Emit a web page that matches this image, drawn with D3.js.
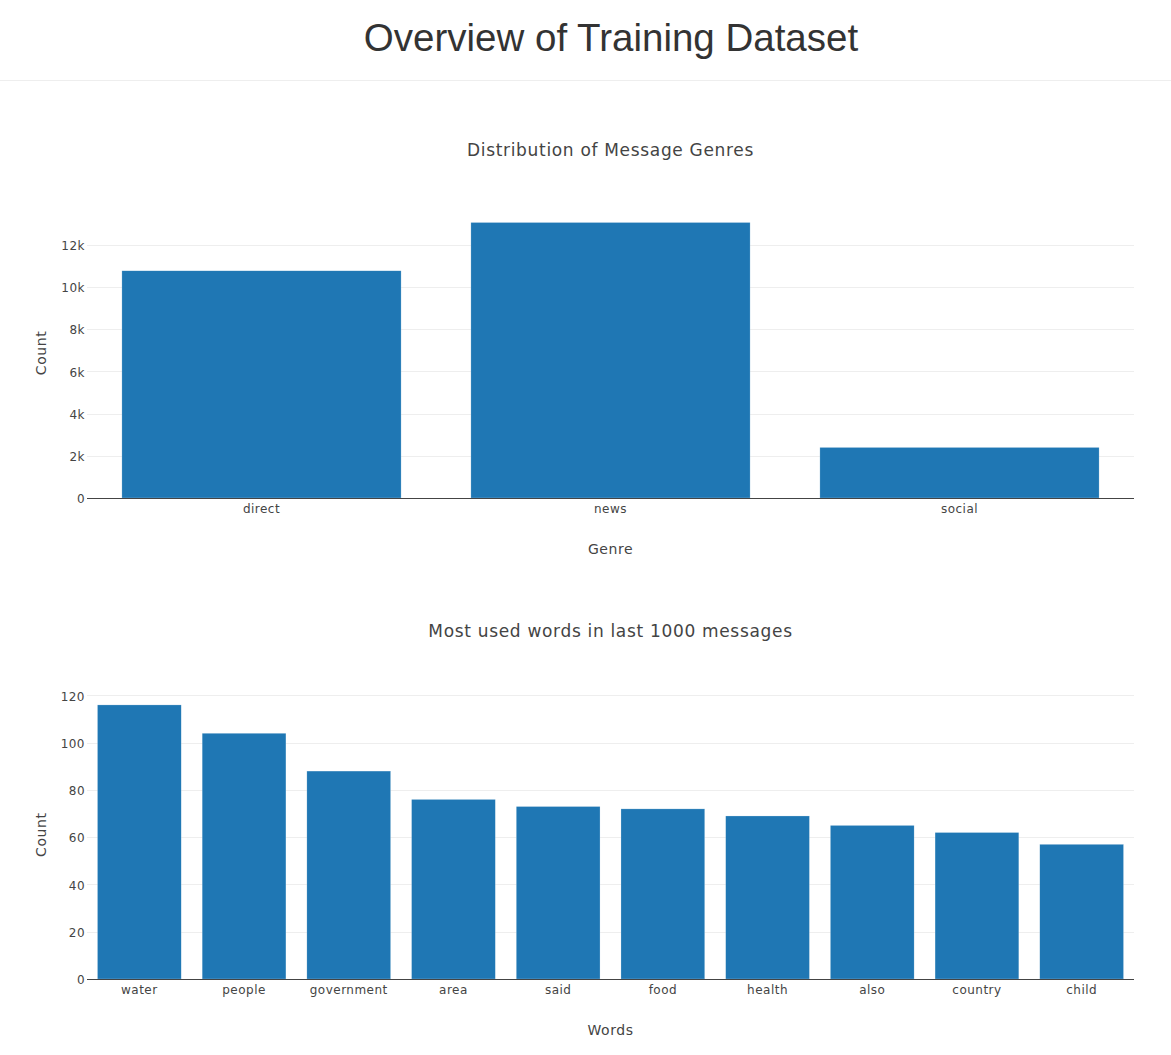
<!DOCTYPE html>
<html>
<head>
<meta charset="utf-8">
<script src="https://cdn.jsdelivr.net/npm/d3@7"></script>
<style>
  html, body { margin: 0; padding: 0; background: #fff; }
  svg { display: block; }
</style>
</head>
<body>
<svg id="chart" width="1171" height="1055"></svg>
<script>
const genreNames = ["direct", "news", "social"];
const genreCounts = [10766, 13054, 2396];
const genreTicks = [0, 2000, 4000, 6000, 8000, 10000, 12000];
const genreTickLabels = ["0", "2k", "4k", "6k", "8k", "10k", "12k"];

const wordNames = ["water", "people", "government", "area", "said", "food", "health", "also", "country", "child"];
const wordCounts = [116, 104, 88, 76, 73, 72, 69, 65, 62, 57];
const wordTicks = [0, 20, 40, 60, 80, 100, 120];
const wordTickLabels = ["0", "20", "40", "60", "80", "100", "120"];

const svg = d3.select("#chart");
const FONT = "'DejaVu Sans', Verdana, sans-serif";
const LS = "0.04em";
const BAR = "#1f77b4";

// Page header
svg.append("text")
  .attr("x", 611).attr("y", 51)
  .attr("text-anchor", "middle")
  .attr("font-family", "'Liberation Sans', Arial, Helvetica, sans-serif")
  .attr("font-size", 38.5)
  .attr("fill", "#333")
  .text("Overview of Training Dataset");
svg.append("line")
  .attr("x1", 0).attr("x2", 1171).attr("y1", 80.5).attr("y2", 80.5)
  .attr("stroke", "#eee").attr("stroke-width", 1);

function drawBarChart(cfg) {
  const g = svg.append("g");
  const x = d3.scaleBand().domain(cfg.names).range([cfg.left, cfg.right]).paddingInner(0.2).paddingOuter(0.1);
  const yMax = d3.max(cfg.values) * 1.0526;
  const y = d3.scaleLinear().domain([0, yMax]).range([cfg.bottom, cfg.top]);

  // gridlines
  g.append("g").selectAll("line")
    .data(cfg.ticks.filter(t => t > 0))
    .join("line")
    .attr("x1", cfg.left).attr("x2", cfg.right)
    .attr("y1", d => Math.round(y(d)) + 0.5).attr("y2", d => Math.round(y(d)) + 0.5)
    .attr("stroke", "#eee").attr("stroke-width", 1);

  // bars
  g.append("g").selectAll("rect")
    .data(cfg.names.map((n, i) => ({ n, v: cfg.values[i] })))
    .join("rect")
    .attr("x", d => x(d.n))
    .attr("width", x.bandwidth())
    .attr("y", d => y(d.v))
    .attr("height", d => y(0) - y(d.v))
    .attr("fill", BAR)
    .attr("stroke", "rgba(255,255,255,0.45)")
    .attr("stroke-width", 0.5);

  // y axis tick labels
  const yAxis = d3.axisLeft(y).tickValues(cfg.ticks)
    .tickFormat((d, i) => cfg.tickLabels[i]).tickSize(0).tickPadding(2);
  const ya = g.append("g").attr("transform", `translate(${cfg.left},0.8)`).call(yAxis);
  ya.select(".domain").remove();
  ya.selectAll("text").attr("font-family", FONT).attr("font-size", 12).attr("fill", "#444")
    .attr("letter-spacing", LS);

  // x axis
  const xAxis = d3.axisBottom(x).tickSize(0).tickPadding(5.5);
  const xa = g.append("g").attr("transform", `translate(0,${Math.round(cfg.bottom) + 0.5})`).call(xAxis);
  xa.select(".domain").attr("stroke", "#444").attr("d", `M${cfg.left},0H${cfg.right}`);
  xa.selectAll("text").attr("font-family", FONT).attr("font-size", 12).attr("fill", "#444")
    .attr("letter-spacing", LS);

  // titles
  svg.append("text")
    .attr("x", (cfg.left + cfg.right) / 2).attr("y", cfg.titleY)
    .attr("text-anchor", "middle")
    .attr("font-family", FONT).attr("font-size", 17).attr("fill", "#444")
    .attr("letter-spacing", LS)
    .text(cfg.title);
  svg.append("text")
    .attr("x", (cfg.left + cfg.right) / 2).attr("y", cfg.xTitleY)
    .attr("text-anchor", "middle")
    .attr("font-family", FONT).attr("font-size", 14).attr("fill", "#444")
    .attr("letter-spacing", LS)
    .text(cfg.xTitle);
  svg.append("text")
    .attr("transform", `translate(46,${(cfg.top + cfg.bottom) / 2}) rotate(-90)`)
    .attr("text-anchor", "middle")
    .attr("font-family", FONT).attr("font-size", 14).attr("fill", "#444")
    .attr("letter-spacing", LS)
    .text(cfg.yTitle);
}

drawBarChart({
  names: genreNames, values: genreCounts, ticks: genreTicks, tickLabels: genreTickLabels,
  left: 87, right: 1134, top: 208, bottom: 498,
  title: "Distribution of Message Genres", titleY: 156,
  xTitle: "Genre", xTitleY: 554, yTitle: "Count"
});

drawBarChart({
  names: wordNames, values: wordCounts, ticks: wordTicks, tickLabels: wordTickLabels,
  left: 87, right: 1134, top: 690.5, bottom: 979,
  title: "Most used words in last 1000 messages", titleY: 637,
  xTitle: "Words", xTitleY: 1035, yTitle: "Count"
});
</script>
</body>
</html>
